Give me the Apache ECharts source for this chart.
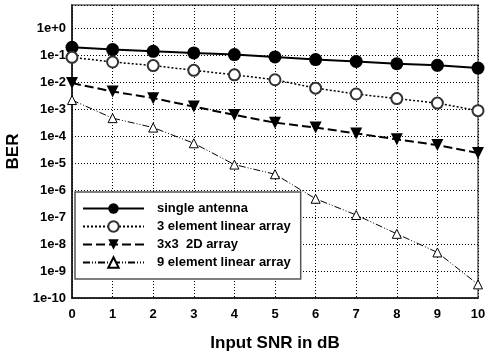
<!DOCTYPE html>
<html>
<head>
<meta charset="utf-8">
<script src="https://cdn.jsdelivr.net/npm/echarts@6/dist/echarts.min.js"></script>
<style>
  html, body { margin: 0; padding: 0; background: #fff; }
  #chart { width: 485px; height: 354px; }
</style>
</head>
<body>
<div id="chart"></div>
<script>
// input SNR in dB
const snr = [0, 1, 2, 3, 4, 5, 6, 7, 8, 9, 10];

// BER
const singleAntenna = [0.2, 0.165, 0.142, 0.124, 0.107, 0.088, 0.07, 0.06, 0.049, 0.043, 0.034];
const linear3 = [0.085, 0.057, 0.042, 0.028, 0.019, 0.0125, 0.0061, 0.0037, 0.0025, 0.0017, 0.00089];
const array2d = [0.0094, 0.0046, 0.0026, 0.00126, 0.00062, 0.00032, 0.00021, 0.000128, 0.000077, 0.000047, 0.000024];
const linear9 = [0.0022, 0.00047, 0.00021, 0.000055, 8.9e-6, 3.9e-6, 4.8e-7, 1.2e-7, 2.4e-8, 4.9e-9, 3.2e-10];

const seriesNames = ["single antenna", "3 element linear array", "3x3  2D array", "9 element linear array"];

// y axis runs on log10(BER), labels written as 1e-n
const yMinExp = -10;
const yMaxExp = 0.87;

const font = "Liberation Sans, Arial, sans-serif";

function toPoints(values) {
    return values.map((v, i) => [snr[i], Math.log10(v)]);
}

const chart = echarts.init(document.getElementById("chart"));
chart.setOption({
    animation: false,
    backgroundColor: "#fff",
    grid: {
        left: 72,
        right: 7,
        top: 5,
        bottom: 56,
        outerBoundsMode: "none",
        containLabel: false,
        show: true,
        borderColor: "#888",
        borderWidth: 2
    },
    legend: {
        left: 75,
        top: 192,
        orient: "vertical",
        itemWidth: 61,
        itemHeight: 13,
        itemGap: 5,
        padding: [10, 10, 10, 7],
        backgroundColor: "#fff",
        borderColor: "#555",
        borderWidth: 1.5,
        textStyle: {
            fontFamily: font,
            fontWeight: "bold",
            fontSize: 13,
            color: "#000",
            padding: [0, 0, 0, 8]
        },
        data: seriesNames
    },
    xAxis: {
        type: "value",
        min: 0,
        max: 10,
        interval: 1,
        name: "Input SNR in dB",
        nameLocation: "middle",
        nameGap: 37,
        nameTextStyle: {
            fontFamily: font,
            fontWeight: "bold",
            fontSize: 17,
            color: "#000"
        },
        axisLine: { onZero: false, lineStyle: { color: "#111", width: 1.5 } },
        axisTick: { show: false },
        axisLabel: {
            margin: 10,
            fontFamily: font,
            fontWeight: "bold",
            fontSize: 13,
            color: "#000"
        },
        splitLine: { lineStyle: { color: "#000", type: [1, 2], width: 1 } }
    },
    yAxis: {
        type: "value",
        min: yMinExp,
        max: yMaxExp,
        interval: 1,
        name: "BER",
        nameLocation: "middle",
        nameGap: 50,
        nameTextStyle: {
            fontFamily: font,
            fontWeight: "bold",
            fontSize: 17,
            color: "#000"
        },
        axisLine: { show: true, onZero: false, lineStyle: { color: "#111", width: 1.5 } },
        axisTick: { show: false },
        axisLabel: {
            margin: 6,
            showMaxLabel: false,
            fontFamily: font,
            fontWeight: "bold",
            fontSize: 13,
            color: "#000",
            formatter: function(v) {
                if (!Number.isInteger(v)) return "";
                return v >= 0 ? "1e+" + v : "1e" + v;
            }
        },
        splitLine: { lineStyle: { color: "#000", type: [1, 2], width: 1 } }
    },
    series: [
        {
            name: seriesNames[0],
            type: "line",
            symbol: "circle",
            symbolSize: 13,
            lineStyle: { color: "#000", width: 2, type: "solid" },
            itemStyle: { color: "#000" },
            data: toPoints(singleAntenna)
        },
        {
            name: seriesNames[1],
            type: "line",
            symbol: "circle",
            symbolSize: 11,
            lineStyle: { color: "#000", width: 1.5, type: [2, 2] },
            itemStyle: { color: "#fff", borderColor: "#333", borderWidth: 2 },
            data: toPoints(linear3)
        },
        {
            name: seriesNames[2],
            type: "line",
            symbol: "triangle",
            symbolRotate: 180,
            symbolSize: 12,
            lineStyle: { color: "#000", width: 2, type: [9, 4] },
            itemStyle: { color: "#000" },
            data: toPoints(array2d)
        },
        {
            name: seriesNames[3],
            type: "line",
            symbol: "triangle",
            symbolSize: 9,
            lineStyle: { color: "#000", width: 1, type: [7, 2, 1, 2, 1, 2] },
            itemStyle: { color: "#fff", borderColor: "#000", borderWidth: 1 },
            data: toPoints(linear9)
        }
    ]
});
</script>
</body>
</html>
